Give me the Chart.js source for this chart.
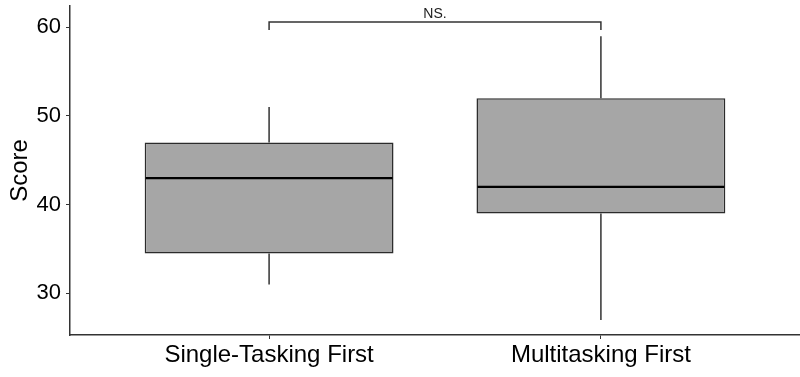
<!DOCTYPE html>
<html>
<head>
<meta charset="utf-8">
<script src="https://cdn.jsdelivr.net/npm/chart.js@4/dist/chart.umd.min.js"></script>
<style>
  html, body { margin: 0; padding: 0; background: #fff; }
  #wrap { width: 800px; height: 377px; }
</style>
</head>
<body>
<div id="wrap"><canvas id="boxChart"></canvas></div>
<script>
// data
const groups = ['Single-Tasking First', 'Multitasking First'];
const mins = [31, 27];
const q1s = [34.5, 39];
const medians = [43, 42];
const q3s = [47, 52];
const maxs = [51, 59];
const yTicks = [30, 40, 50, 60];
const sigText = 'NS.';
const bracketY = 60.6;
const bracketTipY = 59.7;

const axisColor = '#333333';
const fontFam = '"Liberation Sans", Arial, sans-serif';

// whiskers, median and the NS bracket, placed with the chart's scales
const boxExtras = {
    id: 'boxExtras',
    beforeDatasetsDraw(chart) {
        const { ctx, scales: { x, y } } = chart;
        ctx.save();
        ctx.strokeStyle = axisColor;
        ctx.lineWidth = 1.5;
        groups.forEach((g, i) => {
            const px = x.getPixelForValue(i + 1);
            ctx.beginPath();
            ctx.moveTo(px, y.getPixelForValue(maxs[i]));
            ctx.lineTo(px, y.getPixelForValue(q3s[i]));
            ctx.moveTo(px, y.getPixelForValue(q1s[i]));
            ctx.lineTo(px, y.getPixelForValue(mins[i]));
            ctx.stroke();
        });
        ctx.restore();
    },
    afterDatasetsDraw(chart) {
        const { ctx, scales: { x, y } } = chart;
        const meta = chart.getDatasetMeta(0);
        ctx.save();
        // medians
        ctx.strokeStyle = '#000';
        ctx.lineWidth = 2.2;
        meta.data.forEach((bar, i) => {
            const half = bar.width / 2;
            const py = y.getPixelForValue(medians[i]);
            ctx.beginPath();
            ctx.moveTo(bar.x - half + 1, py);
            ctx.lineTo(bar.x + half - 1, py);
            ctx.stroke();
        });
        // bracket
        const x1 = x.getPixelForValue(1);
        const x2 = x.getPixelForValue(2);
        const by = y.getPixelForValue(bracketY);
        const ty = y.getPixelForValue(bracketTipY);
        ctx.strokeStyle = axisColor;
        ctx.lineWidth = 1.5;
        ctx.beginPath();
        ctx.moveTo(x1, ty);
        ctx.lineTo(x1, by);
        ctx.lineTo(x2, by);
        ctx.lineTo(x2, ty);
        ctx.stroke();
        ctx.fillStyle = '#222';
        ctx.font = '14px ' + fontFam;
        ctx.textAlign = 'center';
        ctx.textBaseline = 'bottom';
        ctx.fillText(sigText, (x1 + x2) / 2, by - 1);
        ctx.restore();
    }
};

const boxData = groups.map((g, i) => ({ x: i + 1, y: [q1s[i], q3s[i]] }));

const chartCtx = document.getElementById('boxChart').getContext('2d');
new Chart(chartCtx, {
    type: 'bar',
    data: {
        datasets: [{
            data: boxData,
            backgroundColor: '#a6a6a6',
            borderColor: '#2b2b2b',
            borderWidth: 1.5,
            borderSkipped: false,
            barPercentage: 0.75,
            categoryPercentage: 1
        }]
    },
    plugins: [boxExtras],
    options: {
        responsive: true,
        maintainAspectRatio: false,
        animation: false,
        layout: { padding: { top: 6, right: 0, left: 0, bottom: 0 } },
        plugins: {
            legend: { display: false },
            tooltip: { enabled: false }
        },
        scales: {
            x: {
                type: 'linear',
                offset: false,
                min: 0.4,
                max: 2.6,
                afterBuildTicks(scale) {
                    scale.ticks = groups.map((g, i) => ({ value: i + 1 }));
                },
                afterFit(scale) {
                    scale.height = 42;
                    scale.paddingLeft = 0;
                    scale.paddingRight = 0;
                },
                grid: { offset: false, drawOnChartArea: false, drawTicks: true, tickLength: 4, color: axisColor, lineWidth: 1 },
                border: { display: true, color: axisColor, width: 1.5 },
                ticks: {
                    autoSkip: false,
                    maxRotation: 0,
                    padding: 2,
                    color: '#000',
                    font: { family: fontFam, size: 24 },
                    callback: v => groups[v - 1] || ''
                }
            },
            y: {
                min: 25.3,
                max: 62.4,
                afterBuildTicks(scale) {
                    scale.ticks = yTicks.map(v => ({ value: v }));
                },
                afterFit(scale) {
                    scale.width = 70;
                    scale.paddingTop = 0;
                    scale.paddingBottom = 0;
                },
                grid: { drawOnChartArea: false, drawTicks: true, tickLength: 4, color: axisColor, lineWidth: 1 },
                border: { display: true, color: axisColor, width: 1.5 },
                ticks: {
                    padding: 5,
                    color: '#000',
                    font: { family: fontFam, size: 22 }
                },
                title: {
                    display: true,
                    text: 'Score',
                    color: '#000',
                    padding: { top: 6, bottom: 2 },
                    font: { family: fontFam, size: 24 }
                }
            }
        }
    }
});
</script>
</body>
</html>
